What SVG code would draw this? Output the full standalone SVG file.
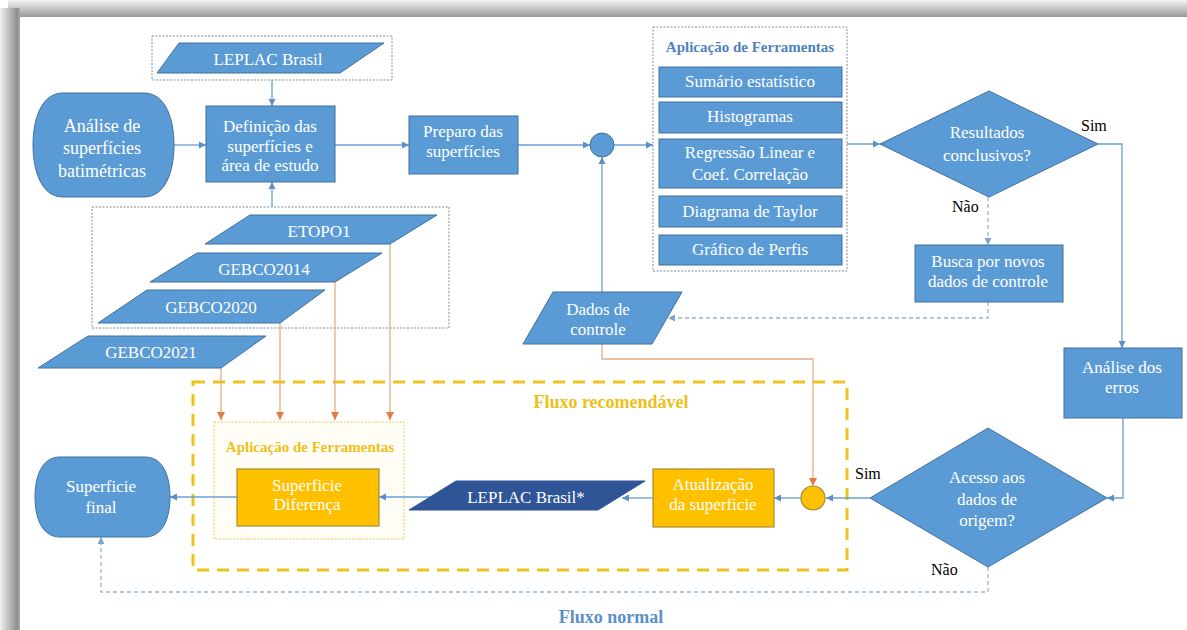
<svg xmlns="http://www.w3.org/2000/svg" width="1187" height="630" viewBox="0 0 1187 630" font-family="Liberation Serif, Times New Roman, serif">
<defs>
<linearGradient id="gTop" x1="0" y1="0" x2="0" y2="1"><stop offset="0" stop-color="#f4f4f4"/><stop offset="1" stop-color="#9a9a9a"/></linearGradient>
<linearGradient id="gLeft" x1="0" y1="0" x2="1" y2="0"><stop offset="0" stop-color="#f2f2f2"/><stop offset="0.85" stop-color="#8e8e8e"/><stop offset="1" stop-color="#a8a8a8"/></linearGradient>
<marker id="ab" markerWidth="8" markerHeight="8" refX="7" refY="4" orient="auto" markerUnits="userSpaceOnUse"><path d="M0,0.5 L7,4 L0,7.5 Z" fill="#5b8fc7"/></marker>
<marker id="ad" markerWidth="8" markerHeight="8" refX="7" refY="4" orient="auto" markerUnits="userSpaceOnUse"><path d="M0,0.5 L7,4 L0,7.5 Z" fill="#7fa3cc"/></marker>
<marker id="ao" markerWidth="9" markerHeight="9" refX="8" refY="4.5" orient="auto" markerUnits="userSpaceOnUse"><path d="M0,0.5 L8,4.5 L0,8.5 Z" fill="#e07b45"/></marker>
<style>
.b{fill:#5b9bd5;stroke:#41719c;stroke-width:1}
.y{fill:#ffc000;stroke:#a88a30;stroke-width:1.2}
.dk{fill:#2f5597;stroke:#2f5597}
.t{font-size:17px;fill:#ffffff;text-anchor:middle}
.lbl{font-size:16px;fill:#000000}
.ttl{font-size:15px;font-weight:bold;text-anchor:middle}
.grp{fill:none;stroke:#7f8a96;stroke-width:1;stroke-dasharray:2 1.5}
.c{fill:none;stroke:#6a9fd4;stroke-width:1.3}
.cd{fill:none;stroke:#9ab4d0;stroke-width:1.3;stroke-dasharray:4 3}
.co{fill:none;stroke:#e3ad86;stroke-width:1.3}
</style>
</defs>
<rect width="1187" height="630" fill="#ffffff"/>
<rect x="8" y="0" width="1179" height="17" fill="url(#gTop)"/>
<rect x="0" y="8" width="20" height="622" fill="url(#gLeft)"/>
<rect x="20" y="17" width="1167" height="613" fill="#ffffff"/>

<g id="containers">
<rect x="152" y="36" width="240" height="44" class="grp"/>
<rect x="92" y="207" width="357" height="121" class="grp"/>
<rect x="653" y="27" width="194" height="244" class="grp"/>
<rect x="193" y="382" width="654" height="188" fill="none" stroke="#f0c31c" stroke-width="3" stroke-dasharray="12 8"/>
<rect x="214" y="422" width="190" height="117" fill="#fffdf5" stroke="#e8c95a" stroke-width="1" stroke-dasharray="2 1.5"/>
<text x="611" y="408" class="ttl" font-family="Liberation Serif, serif" style="font-size:18px;fill:#efbf1a">Fluxo recomendável</text>
<text x="611" y="623" class="ttl" font-family="Liberation Serif, serif" style="font-size:18px;fill:#5b8fc7">Fluxo normal</text>
<text x="750" y="52" class="ttl" font-family="Liberation Serif, serif" style="fill:#4f81bd">Aplicação de Ferramentas</text>
<text x="310" y="452" class="ttl" font-family="Liberation Serif, serif" style="fill:#efbf1a">Aplicação de Ferramentas</text>
</g>

<g id="connectors">
<line x1="174" y1="145" x2="206" y2="145" class="c" marker-end="url(#ab)"/>
<line x1="272" y1="80" x2="272" y2="106" class="c" marker-end="url(#ab)"/>
<line x1="272" y1="207" x2="272" y2="182" class="c" marker-end="url(#ab)"/>
<line x1="335" y1="145" x2="409" y2="145" class="c" marker-end="url(#ab)"/>
<line x1="518" y1="145" x2="590" y2="145" class="c" marker-end="url(#ab)"/>
<line x1="614" y1="145" x2="653" y2="145" class="c" marker-end="url(#ab)"/>
<line x1="847" y1="144" x2="880" y2="144" class="c" marker-end="url(#ab)"/>
<polyline points="1098,144 1122,144 1122,348" class="c" marker-end="url(#ab)"/>
<line x1="988" y1="197" x2="988" y2="245" class="cd" marker-end="url(#ad)"/>
<polyline points="988,302 988,318 668,318" class="cd" marker-end="url(#ad)"/>
<line x1="602" y1="292" x2="602" y2="157" class="c" marker-end="url(#ab)"/>
<polyline points="602,344 602,359 813,359 813,486" class="co" marker-end="url(#ao)"/>
<polyline points="1123,418 1123,498 1107,498" class="c" marker-end="url(#ab)"/>
<line x1="870" y1="498" x2="826" y2="498" class="c" marker-end="url(#ab)"/>
<line x1="801" y1="498" x2="774" y2="498" class="c" marker-end="url(#ab)"/>
<line x1="653" y1="498" x2="622" y2="498" class="c" marker-end="url(#ab)"/>
<line x1="430" y1="497" x2="379" y2="497" class="c" marker-end="url(#ab)"/>
<line x1="237" y1="497" x2="170" y2="497" class="c" marker-end="url(#ab)"/>
<polyline points="988,567 988,592 101,592 101,537" class="cd" marker-end="url(#ad)"/>
<line x1="221" y1="368" x2="221" y2="420" class="co" marker-end="url(#ao)"/>
<line x1="280" y1="323" x2="280" y2="420" class="co" marker-end="url(#ao)"/>
<line x1="335" y1="282" x2="335" y2="420" class="co" marker-end="url(#ao)"/>
<line x1="390" y1="244" x2="390" y2="420" class="co" marker-end="url(#ao)"/>
<text x="1081" y="131" class="lbl" font-family="Liberation Serif, serif">Sim</text>
<text x="952" y="212" class="lbl" font-family="Liberation Serif, serif">Não</text>
<text x="855" y="479" class="lbl" font-family="Liberation Serif, serif">Sim</text>
<text x="931" y="575" class="lbl" font-family="Liberation Serif, serif">Não</text>
</g>

<g font-family="Liberation Serif, serif">
<g id="n-analise">
<path d="M63,93 H144 C166,93 174,120 174,145 C174,170 166,197 144,197 H63 C41,197 33,170 33,145 C33,120 41,93 63,93 Z" class="b"/>
<text x="102" y="132" class="t" style="font-size:18px">Análise de</text>
<text x="102" y="154" class="t" style="font-size:18px">superfícies</text>
<text x="102" y="177" class="t" style="font-size:18px">batimétricas</text>
</g>
<g id="n-leplac">
<polygon points="157,73 179,43 384,43 340,73" class="b"/>
<text x="268" y="65" class="t">LEPLAC Brasil</text>
</g>
<g id="n-definicao">
<rect x="206" y="106" width="129" height="76" class="b"/>
<text x="270" y="132" class="t">Definição das</text>
<text x="270" y="152" class="t">superfícies e</text>
<text x="270" y="171" class="t">área de estudo</text>
</g>
<g id="n-etopo1">
<polygon points="205,244 250,215 437,215 390,244" class="b"/>
<text x="319" y="237" class="t">ETOPO1</text>
</g>
<g id="n-gebco2014">
<polygon points="150,282 197,253 382,253 335,282" class="b"/>
<text x="264" y="275" class="t">GEBCO2014</text>
</g>
<g id="n-gebco2020">
<polygon points="98,323 147,290 325,290 280,323" class="b"/>
<text x="211" y="313" class="t">GEBCO2020</text>
</g>
<g id="n-gebco2021">
<polygon points="38,368 88,336 266,336 221,368" class="b"/>
<text x="151" y="358" class="t">GEBCO2021</text>
</g>
<g id="n-preparo">
<rect x="409" y="116" width="109" height="58" class="b"/>
<text x="463" y="137" class="t">Preparo das</text>
<text x="463" y="157" class="t">superfícies</text>
</g>
<g id="n-circ1">
<circle cx="602" cy="145" r="12" class="b"/>
</g>
<g id="n-sumario">
<rect x="659" y="67" width="183" height="30" class="b"/>
<text x="750" y="87" class="t">Sumário estatístico</text>
</g>
<g id="n-histogramas">
<rect x="659" y="102" width="183" height="31" class="b"/>
<text x="750" y="122" class="t">Histogramas</text>
</g>
<g id="n-regressao">
<rect x="659" y="139" width="183" height="49" class="b"/>
<text x="750" y="158" class="t">Regressão Linear e</text>
<text x="750" y="180" class="t">Coef. Correlação</text>
</g>
<g id="n-taylor">
<rect x="659" y="196" width="183" height="31" class="b"/>
<text x="750" y="217" class="t">Diagrama de Taylor</text>
</g>
<g id="n-perfis">
<rect x="659" y="235" width="183" height="30" class="b"/>
<text x="750" y="255" class="t">Gráfico de Perfis</text>
</g>
<g id="n-resultados">
<polygon points="880,144 989,91 1098,144 989,197" class="b"/>
<text x="987" y="138" class="t">Resultados</text>
<text x="987" y="161" class="t">conclusivos?</text>
</g>
<g id="n-busca">
<rect x="915" y="245" width="148" height="57" class="b"/>
<text x="988" y="267" class="t">Busca por novos</text>
<text x="988" y="287" class="t">dados de controle</text>
</g>
<g id="n-dados">
<polygon points="523,344 553,292 682,292 652,344" class="b"/>
<text x="598" y="315" class="t">Dados de</text>
<text x="598" y="335" class="t">controle</text>
</g>
<g id="n-erros">
<rect x="1064" y="348" width="118" height="70" class="b"/>
<text x="1122" y="373" class="t">Análise dos</text>
<text x="1122" y="393" class="t">erros</text>
</g>
<g id="n-acesso">
<polygon points="870,498 988,428 1107,498 988,567" class="b"/>
<text x="987" y="483" class="t">Acesso aos</text>
<text x="987" y="505" class="t">dados de</text>
<text x="987" y="526" class="t">origem?</text>
</g>
<g id="n-circ2">
<circle cx="813" cy="498" r="12" class="y"/>
</g>
<g id="n-atualizacao">
<rect x="653" y="469" width="121" height="58" class="y"/>
<text x="713" y="490" class="t">Atualização</text>
<text x="713" y="510" class="t">da superficie</text>
</g>
<g id="n-leplac2">
<polygon points="409,510 456,481 645,481 598,510" class="dk"/>
<text x="526" y="503" class="t">LEPLAC Brasil*</text>
</g>
<g id="n-diferenca">
<rect x="237" y="469" width="142" height="57" class="y"/>
<text x="307" y="491" class="t">Superficie</text>
<text x="307" y="510" class="t">Diferença</text>
</g>
<g id="n-final">
<path d="M60,457 H145 C164,457 170,478 170,497 C170,516 164,537 145,537 H60 C41,537 35,516 35,497 C35,478 41,457 60,457 Z" class="b"/>
<text x="101" y="492" class="t">Superficie</text>
<text x="101" y="513" class="t">final</text>
</g>
</g>
</svg>
